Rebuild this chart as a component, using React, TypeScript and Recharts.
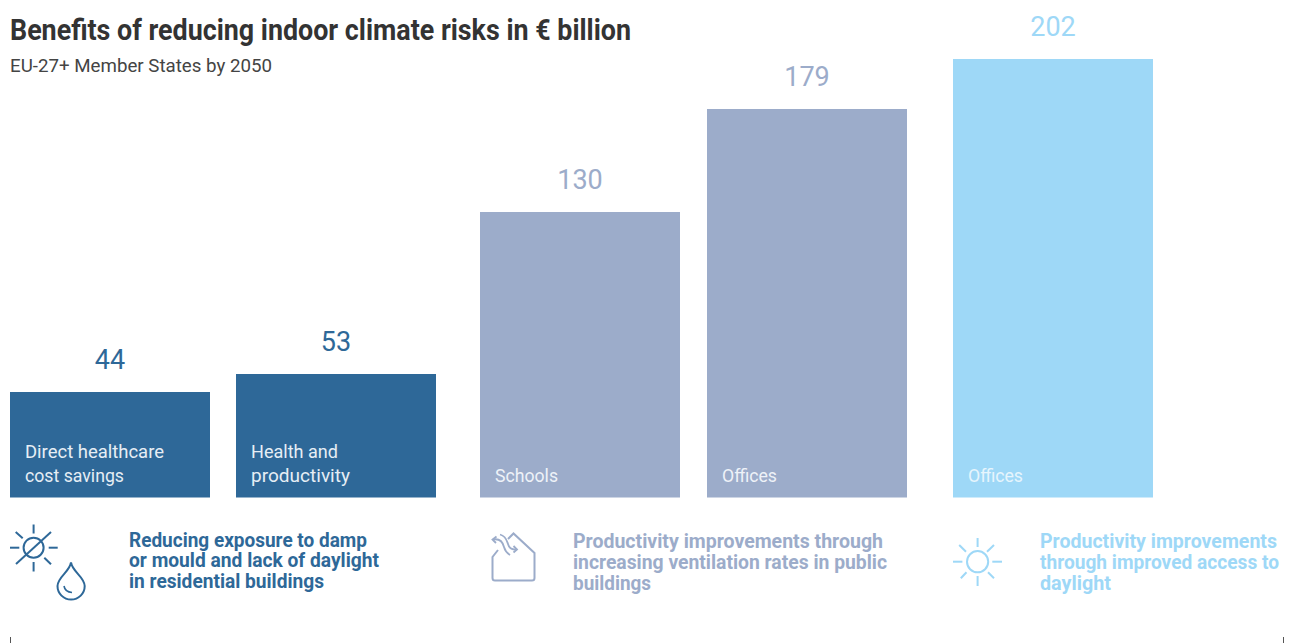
import React from "react";
import { BarChart, Bar, XAxis, YAxis, LabelList } from "recharts";

const groupOneNames = ["Direct healthcare|cost savings", "Health and|productivity"];
const groupOneHeights = [48.6, 56.9];
const groupOneLabels = ["44", "53"];
const groupTwoNames = ["Schools", "Offices"];
const groupTwoHeights = [131.5, 179];
const groupTwoLabels = ["130", "179"];
const groupThreeNames = ["Offices"];
const groupThreeHeights = [202];
const groupThreeLabels = ["202"];

const DARK = "#2e6898";
const MID = "#9cacca";
const LIGHT = "#9ed8f7";
const FONT_REG = "Roboto, sans-serif";

function toRows(names: string[], heights: number[], labels: string[]) {
  return names.map((name, i) => ({ name, height: heights[i], shown: labels[i] }));
}

function InnerLabel(props: any) {
  const { x, y, height, value, fill, widths } = props;
  const lines = String(value).split("|");
  const bottom = y + height;
  return (
    <g>
      {lines.map((line, i) => (
        <text
          key={line}
          x={x + 15}
          y={bottom - 16 - (lines.length - 1 - i) * 24}
          fill={fill}
          fontFamily={FONT_REG}
          fontSize={19}
          textLength={widths[line]}
          lengthAdjust="spacingAndGlyphs"
        >
          {line}
        </text>
      ))}
    </g>
  );
}

const innerWidths: Record<string, number> = {
  "Direct healthcare": 139,
  "cost savings": 99,
  "Health and": 87,
  productivity: 99,
  Schools: 63,
  Offices: 55,
};

function Group(props: {
  left: number;
  width: number;
  rows: { name: string; height: number; shown: string }[];
  color: string;
  textColor: string;
}) {
  const { left, width, rows, color, textColor } = props;
  return (
    <div style={{ position: "absolute", left, top: 0 }}>
      <BarChart
        width={width}
        height={497.5}
        data={rows}
        margin={{ top: 59, right: 0, bottom: 0, left: 0 }}
        barCategoryGap={0}
        style={{ overflow: "visible" }}
      >
        <XAxis dataKey="name" hide />
        <YAxis hide domain={[0, 202]} />
        <Bar dataKey="height" fill={color} barSize={200} isAnimationActive={false}>
          <LabelList
            dataKey="shown"
            position="top"
            offset={23}
            fill={color}
            fontFamily={FONT_REG}
            fontWeight={400}
            fontSize={27}
          />
          <LabelList
            dataKey="name"
            content={(p: any) => <InnerLabel {...p} fill={textColor} widths={innerWidths} />}
          />
        </Bar>
      </BarChart>
    </div>
  );
}

function Txt(props: { x: number; y: number; w: number; size: number; color: string; bold?: boolean; children: string }) {
  const { x, y, w, size, color, bold, children } = props;
  return (
    <text
      x={x}
      y={y}
      fontSize={size}
      fill={color}
      fontWeight={bold ? 700 : 400}
      fontFamily={FONT_REG}
      textLength={w}
      lengthAdjust="spacingAndGlyphs"
    >
      {children}
    </text>
  );
}

function SunRays(props: { color: string; segs: number[][] }) {
  return (
    <g stroke={props.color} strokeWidth={2} strokeLinecap="butt">
      {props.segs.map((s, i) => (
        <line key={i} x1={s[0]} y1={s[1]} x2={s[2]} y2={s[3]} />
      ))}
    </g>
  );
}

export default function App() {
  return (
    <div style={{ position: "absolute", left: 0, top: 0, width: 1293, height: 643, overflow: "hidden", background: "#fff" }}>
      <Group left={-3} width={452} rows={toRows(groupOneNames, groupOneHeights, groupOneLabels)} color={DARK} textColor="#e6eef5" />
      <Group left={465.5} width={454} rows={toRows(groupTwoNames, groupTwoHeights, groupTwoLabels)} color={MID} textColor="#eef2f8" />
      <Group left={928} width={250} rows={toRows(groupThreeNames, groupThreeHeights, groupThreeLabels)} color={LIGHT} textColor="#e6f5fd" />
      <svg width={1293} height={643} style={{ position: "absolute", left: 0, top: 0, pointerEvents: "none" }}>
        <Txt x={10} y={40} w={621} size={29} color="#333333" bold>Benefits of reducing indoor climate risks in € billion</Txt>
        <Txt x={10} y={72} w={262} size={19} color="#444444">EU-27+ Member States by 2050</Txt>

        <Txt x={129} y={546.5} w={238} size={19.5} color={DARK} bold>Reducing exposure to damp</Txt>
        <Txt x={129} y={567} w={250} size={19.5} color={DARK} bold>or mould and lack of daylight</Txt>
        <Txt x={129} y={587.5} w={195} size={19.5} color={DARK} bold>in residential buildings</Txt>

        <Txt x={573} y={548} w={310} size={19.5} color={MID} bold>Productivity improvements through</Txt>
        <Txt x={573} y={569} w={314} size={19.5} color={MID} bold>increasing ventilation rates in public</Txt>
        <Txt x={573} y={590} w={78} size={19.5} color={MID} bold>buildings</Txt>

        <Txt x={1040} y={548} w={237} size={19.5} color={LIGHT} bold>Productivity improvements</Txt>
        <Txt x={1040} y={569} w={239} size={19.5} color={LIGHT} bold>through improved access to</Txt>
        <Txt x={1040} y={590} w={71} size={19.5} color={LIGHT} bold>daylight</Txt>

        {/* sun + slash */}
        <circle cx={33.6} cy={547.7} r={10} fill="none" stroke={DARK} strokeWidth={2} />
        <SunRays
          color={DARK}
          segs={[
            [33.6, 524.5, 33.6, 533.5],
            [33.6, 562, 33.6, 571.5],
            [10, 547.7, 19.3, 547.7],
            [48.7, 547.7, 57.7, 547.7],
            [15.7, 532, 22.7, 538.3],
            [44.3, 557.7, 51, 564.3],
            [51, 532, 16, 564],
          ]}
        />
        {/* drop */}
        <path d="M71 562.5 C69.5 572 57.5 577 57.5 586 A13.6 13.6 0 0 0 84.7 586 C84.7 577 72.5 572 71 562.5 Z" fill="none" stroke={DARK} strokeWidth={2} />
        <path d="M64 586 Q65 592 72 592.5" fill="none" stroke={DARK} strokeWidth={1.6} />

        {/* house */}
        <path d="M508 539 L513.5 533.5 L534.5 553 L534.5 578 Q534.5 580.5 532 580.5 L495 580.5 Q492.5 580.5 492.5 578 L492.5 557 L498 550" fill="none" stroke={MID} strokeWidth={2} />
        <path d="M493 539.5 C501 538 503 543 504 547 C505 551 507 553 510 555" fill="none" stroke={MID} strokeWidth={1.8} />
        <path d="M496.5 536.5 L492.5 539.5 L496 543" fill="none" stroke={MID} strokeWidth={1.8} />
        <path d="M500 534.5 C506 536 507 541 508 544 C509 548 512 550 517 549.5" fill="none" stroke={MID} strokeWidth={1.8} />
        <path d="M513.5 546 L517 549.5 L513.5 552.5" fill="none" stroke={MID} strokeWidth={1.8} />

        {/* sun */}
        <circle cx={977.6} cy={561.7} r={10.6} fill="none" stroke={LIGHT} strokeWidth={2} />
        <SunRays
          color={LIGHT}
          segs={[
            [977.6, 538, 977.6, 547],
            [977.6, 576, 977.6, 586],
            [953, 561.7, 962.4, 561.7],
            [992.3, 561.7, 1002, 561.7],
            [959.2, 545, 966, 551.7],
            [994, 545, 987, 551.7],
            [966.5, 572.3, 960.8, 578.3],
            [988, 572.3, 994, 578.3],
          ]}
        />

        {/* crop marks */}
        <line x1={10.5} y1={637} x2={10.5} y2={643} stroke="#555" strokeWidth={1} />
        <line x1={1283.5} y1={637} x2={1283.5} y2={643} stroke="#555" strokeWidth={1} />
      </svg>
    </div>
  );
}
